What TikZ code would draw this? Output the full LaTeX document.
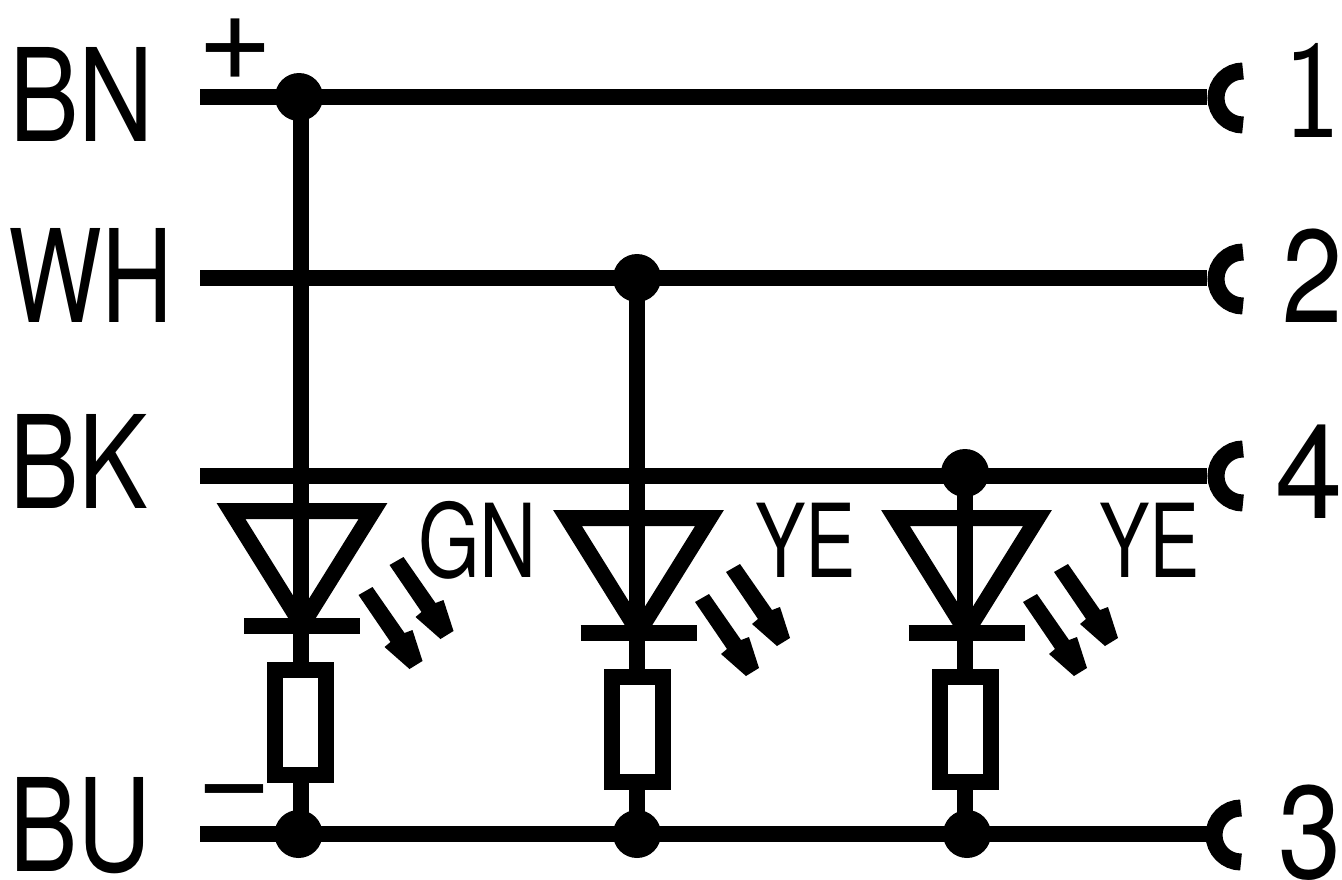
\documentclass[tikz,border=0pt]{standalone}
\usepackage{fontspec}
\newfontfamily\heros{TeX Gyre Heros}
\newcommand{\wirewd}{16pt}
\newcommand{\lblfont}{\heros\fontsize{129}{129}\selectfont}
\newcommand{\numfont}{\heros\fontsize{132}{132}\selectfont}
\newcommand{\ledfont}{\heros\fontsize{102}{102}\selectfont}
\newcommand{\signfont}{\heros\fontsize{130}{130}\selectfont}
\tikzset{
  wire/.style={line width=\wirewd},
  junction/.style={circle,fill=black,inner sep=0pt,minimum size=48pt},
  resistor/.style={rectangle,draw,fill=white,line width=\wirewd,inner sep=0pt,minimum width=51pt,minimum height=105pt},
  lbl/.style={inner sep=0pt,anchor=base west,xscale=0.81,font=\lblfont},
  numlbl/.style={inner sep=0pt,anchor=base west,xscale=0.82,font=\numfont},
  ledlbl/.style={inner sep=0pt,anchor=base west,xscale=0.74,font=\ledfont},
  signlbl/.style={inner sep=0pt,font=\signfont}
}
% one pair of light arrows, origin at the start of the lower shaft
\newcommand{\ledarrows}[2]{
  \foreach \ax/\ay in {0/0,31/-30} {
    \fill[shift={(#1+\ax,#2+\ay)}] (0,0) -- (14,-8) -- (46,38) -- (54,35) -- (64,66) -- (51,74) -- (26,52) -- (32,47) -- cycle;
  }
}
\begin{document}
\begin{tikzpicture}[x=1pt,y=-1pt]
  \useasboundingbox (0,0) rectangle (1342,879);
  % wire ends at the left
  \coordinate (inbn) at (200,97);
  \coordinate (inwh) at (200,278);
  \coordinate (inbk) at (200,476);
  \coordinate (inbu) at (200,834);
  % wire ends at the right
  \coordinate (outbn) at (1207,97);
  \coordinate (outwh) at (1207,278);
  \coordinate (outbk) at (1207,476);
  \coordinate (outbu) at (1207,834);
  % junctions
  \node[junction] (jbn) at (299,97) {};
  \node[junction] (jwh) at (637,278) {};
  \node[junction] (jbk) at (965,473) {};
  \node[junction] (jbua) at (298.5,834) {};
  \node[junction] (jbub) at (637,834) {};
  \node[junction] (jbuc) at (967,834) {};
  % horizontal wires
  \draw[wire] (inbn) -- (outbn);
  \draw[wire] (inwh) -- (outwh);
  \draw[wire] (inbk) -- (outbk);
  \draw[wire] (inbu) -- (outbu);
  % sockets
  \foreach \sx/\sy in {1243/71,1243/252,1243/449,1241/808} {
    \draw[wire,line width=17pt] (\sx,\sy) arc[start angle=270,end angle=90,radius=27];
  }
  % led branches
  \foreach \nm/\tp/\bt/\lx/\dy in {a/jbn/jbua/300.5/0,b/jwh/jbub/637/7,c/jbk/jbuc/965/7} {
    \node[resistor] (r\nm) at (\lx,722.5+\dy) {};
    \draw[wire] (\tp -| r\nm.north) -- (r\nm.north);
    \draw[wire] (r\nm.south) -- (\bt -| r\nm.south);
    \draw[wire,miter limit=10] (\lx-69.5,511+\dy) -- (\lx+72.5,511+\dy) -- (\lx+1.5,625+\dy) -- cycle;
    \coordinate (ba\nm) at (\lx-56.5,626+\dy);
    \coordinate (bb\nm) at (\lx+59.5,626+\dy);
    \draw[wire] (ba\nm) -- (bb\nm);
    \ledarrows{\lx+58}{595+\dy}
  }
  % labels
  \node[lbl] (lbn) at (9,141) {BN};
  \node[lbl,xscale=0.95] (lwh) at (8,322) {WH};
  \node[lbl] (lbk) at (9,508) {BK};
  \node[lbl,xscale=0.98] (lbu) at (9,871) {BU};
  \node[inner sep=0pt,anchor=base west,xscale=0.85,font=\sffamily\fontsize{140}{140}\selectfont] (none) at (1284,137) {1};
  \node[numlbl] (ntwo) at (1282,322) {2};
  \node[numlbl,xscale=1.12] (nfour) at (1275,518) {4};
  \node[numlbl,xscale=1.05] (nthree) at (1278,878) {3};
  \node[ledlbl,xscale=1.05] (lgn) at (418,577) {GN};
  \node[ledlbl] (lyea) at (755,577) {YE};
  \node[ledlbl] (lyeb) at (1099,577) {YE};
  \node[signlbl] (plus) at (235,50) {+};
  \node[signlbl] (minus) at (234,803.5) {−};
\end{tikzpicture}
\end{document}
